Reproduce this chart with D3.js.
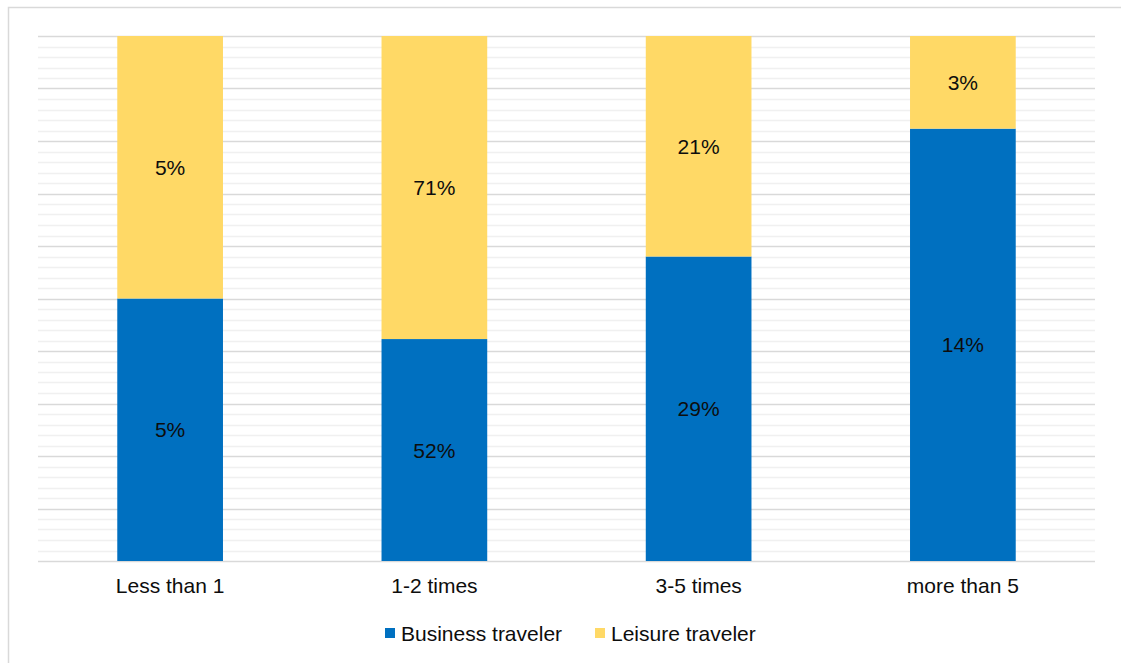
<!DOCTYPE html>
<html>
<head>
<meta charset="utf-8">
<script src="https://cdn.jsdelivr.net/npm/d3@7"></script>
<style>
  html, body { margin: 0; padding: 0; background: #fff; }
  svg { display: block; font-family: "Liberation Sans", Arial, sans-serif; }
</style>
</head>
<body>
<svg id="chart" width="1121" height="663"></svg>
<script>
// Visit frequency categories and the share of each traveler type
const categories = ["Less than 1", "1-2 times", "3-5 times", "more than 5"];
const seriesNames = ["Business traveler", "Leisure traveler"];
const businessValues = [5, 52, 29, 14];
const leisureValues = [5, 71, 21, 3];
const colors = ["#0070C0", "#FFD966"];

const svg = d3.select("#chart");
const W = 1121, H = 663;
const plot = { left: 38, right: 1095, top: 36, bottom: 561 };
const FONT = 21;
const TEXT_COLOR = "#0d0d0d";

// Outer chart frame
svg.append("rect")
  .attr("x", 8.5).attr("y", 7.5)
  .attr("width", W).attr("height", H)
  .attr("fill", "none").attr("stroke", "#d9d9d9").attr("stroke-width", 1.5);

const x = d3.scaleBand()
  .domain(categories)
  .range([plot.left, plot.right])
  .paddingInner(0.6)
  .paddingOuter(0.3);

const y = d3.scaleLinear().domain([0, 1]).range([plot.bottom, plot.top]);

// Minor gridlines every 2%, major every 10%
const minor = d3.range(0, 101, 2).filter(v => v % 10 !== 0).map(v => v / 100);
const major = d3.range(0, 101, 10).map(v => v / 100);
svg.append("g").selectAll("line").data(minor).join("line")
  .attr("x1", plot.left).attr("x2", plot.right)
  .attr("y1", d => Math.round(y(d)) + 0.5).attr("y2", d => Math.round(y(d)) + 0.5)
  .attr("stroke", "#f0f0f0").attr("stroke-width", 1.5);
svg.append("g").selectAll("line").data(major).join("line")
  .attr("x1", plot.left).attr("x2", plot.right)
  .attr("y1", d => Math.round(y(d)) + 0.5).attr("y2", d => Math.round(y(d)) + 0.5)
  .attr("stroke", "#d9d9d9").attr("stroke-width", 1.5);

// Normalise each category to 100%
const rows = categories.map((c, i) => {
  const total = businessValues[i] + leisureValues[i];
  return { cat: c, b: businessValues[i], l: leisureValues[i], total };
});
const segments = [];
rows.forEach(r => {
  const b1 = r.b / r.total;
  segments.push({ cat: r.cat, y0: 0, y1: b1, value: r.b, s: 0 });
  segments.push({ cat: r.cat, y0: b1, y1: 1, value: r.l, s: 1 });
});

const bars = svg.append("g");
bars.selectAll("rect").data(segments).join("rect")
  .attr("x", d => x(d.cat))
  .attr("width", x.bandwidth())
  .attr("y", d => y(d.y1))
  .attr("height", d => y(d.y0) - y(d.y1))
  .attr("fill", d => colors[d.s]);

bars.selectAll("text").data(segments).join("text")
  .attr("x", d => x(d.cat) + x.bandwidth() / 2)
  .attr("y", d => (y(d.y0) + y(d.y1)) / 2 + 2)
  .attr("text-anchor", "middle")
  .attr("dominant-baseline", "middle")
  .attr("font-size", FONT)
  .attr("fill", TEXT_COLOR)
  .text(d => d.value + "%");

// Category axis labels
const xAxis = svg.append("g")
  .attr("transform", `translate(0,${plot.bottom})`)
  .call(d3.axisBottom(x).tickSize(0).tickPadding(17));
xAxis.select(".domain").remove();
xAxis.selectAll("text")
  .attr("font-size", FONT)
  .attr("font-family", "Liberation Sans, Arial, sans-serif")
  .attr("fill", TEXT_COLOR);

// Legend
const legendItems = [
  { name: seriesNames[0], color: colors[0], x: 385 },
  { name: seriesNames[1], color: colors[1], x: 595 }
];
const lg = svg.append("g");
legendItems.forEach(it => {
  lg.append("rect").attr("x", it.x).attr("y", 628).attr("width", 10).attr("height", 10).attr("fill", it.color);
  lg.append("text").attr("x", it.x + 16).attr("y", 641)
    .attr("font-size", FONT).attr("fill", TEXT_COLOR).text(it.name);
});
</script>
</body>
</html>
